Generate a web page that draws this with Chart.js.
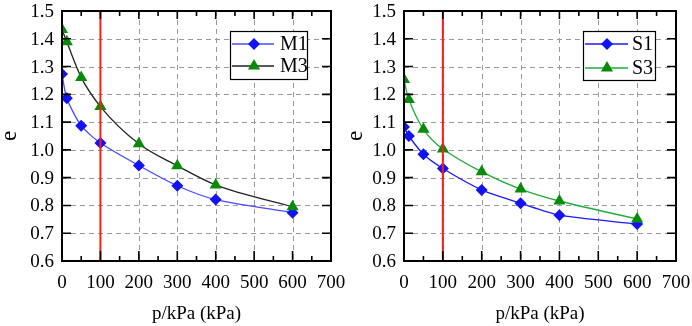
<!DOCTYPE html>
<html>
<head>
<meta charset="utf-8">
<script src="https://cdn.jsdelivr.net/npm/chart.js@4.4.0/dist/chart.umd.min.js"></script>
<style>
  html, body { margin:0; padding:0; background:#fff; }
  .wrap { display:flex; width:692px; height:326px; }
  .wrap canvas { display:block; }
</style>
</head>
<body>
<div class="wrap">
  <canvas id="chartM" width="346" height="326"></canvas>
  <canvas id="chartS" width="346" height="326"></canvas>
</div>
<script>
// --- data ---
const pressure = [0, 12.5, 50, 100, 200, 300, 400, 600];   // kPa
const eM1 = [1.273, 1.186, 1.087, 1.025, 0.944, 0.871, 0.821, 0.774];
const eM3 = [1.433, 1.389, 1.261, 1.156, 1.022, 0.943, 0.874, 0.795];
const eS1 = [1.082, 1.050, 0.984, 0.933, 0.856, 0.808, 0.765, 0.733];
const eS3 = [1.253, 1.181, 1.074, 1.003, 0.921, 0.859, 0.816, 0.751];
const markerP = [100, 100];          // red reference line
const markerE = [0.6, 1.5];
const xTicks = [0, 100, 200, 300, 400, 500, 600, 700];
const yTicks = [0.6, 0.7, 0.8, 0.9, 1.0, 1.1, 1.2, 1.3, 1.4, 1.5];

const FONT = "'Liberation Serif', 'Times New Roman', serif";
const pts = arr => arr.map((v, i) => ({ x: pressure[i], y: v }));
const redLine = () => ({
  label: '', data: markerE.map((v, i) => ({ x: markerP[i], y: v })),
  borderColor: '#ff1a1a', borderWidth: 2, pointRadius: 0, order: 0
});

// dashed grid + boxed frame with inward ticks + tick labels
const framePlugin = {
  id: 'frame',
  beforeDatasetsDraw(chart) {
    const { ctx, chartArea: a, scales: { x, y } } = chart;
    ctx.save();
    ctx.strokeStyle = '#9a9a9a';
    ctx.lineWidth = 1;
    ctx.setLineDash([5, 4]);
    xTicks.slice(1, -1).forEach(t => {
      const px = Math.round(x.getPixelForValue(t)) + 0.5;
      ctx.beginPath(); ctx.moveTo(px, a.top); ctx.lineTo(px, a.bottom); ctx.stroke();
    });
    yTicks.slice(1, -1).forEach(t => {
      const py = Math.round(y.getPixelForValue(t)) + 0.5;
      ctx.beginPath(); ctx.moveTo(a.left, py); ctx.lineTo(a.right, py); ctx.stroke();
    });
    ctx.restore();
  },
  afterDatasetsDraw(chart) {
    const { ctx, chartArea: a, scales: { x, y } } = chart;
    ctx.save();
    ctx.strokeStyle = '#000';
    ctx.lineWidth = 2;
    ctx.setLineDash([]);
    ctx.strokeRect(a.left, a.top, a.right - a.left, a.bottom - a.top);
    ctx.lineWidth = 1.6;
    for (let v = 50; v < 700; v += 50) {
      const px = x.getPixelForValue(v);
      const big = v % 100 === 0;
      ctx.beginPath();
      ctx.moveTo(px, a.bottom); ctx.lineTo(px, a.bottom - (big ? 10 : 5));
      ctx.moveTo(px, a.top); ctx.lineTo(px, a.top + (big ? 8 : 5));
      ctx.stroke();
    }
    yTicks.slice(1, -1).forEach(t => {
      const py = y.getPixelForValue(t);
      ctx.beginPath();
      ctx.moveTo(a.left, py); ctx.lineTo(a.left + 9, py);
      ctx.moveTo(a.right, py); ctx.lineTo(a.right - 9, py);
      ctx.stroke();
    });
    // tick labels
    ctx.fillStyle = '#000';
    ctx.font = '19px ' + FONT;
    ctx.textBaseline = 'middle';
    ctx.textAlign = 'center';
    xTicks.forEach(t => ctx.fillText(String(t), x.getPixelForValue(t), a.bottom + 22));
    ctx.textAlign = 'right';
    yTicks.forEach(t => ctx.fillText(t.toFixed(1), a.left - 8, y.getPixelForValue(t) + 1));
    ctx.restore();
  }
};

function drawMarker(ctx, style, cx, cy, r, color) {
  ctx.fillStyle = color;
  ctx.beginPath();
  if (style === 'rectRot') {
    ctx.moveTo(cx, cy - r); ctx.lineTo(cx + r, cy); ctx.lineTo(cx, cy + r); ctx.lineTo(cx - r, cy);
  } else {
    ctx.moveTo(cx, cy - r); ctx.lineTo(cx + r * 0.87, cy + r * 0.5); ctx.lineTo(cx - r * 0.87, cy + r * 0.5);
  }
  ctx.closePath();
  ctx.fill();
}

// boxed legend inside the plot
const boxLegend = {
  id: 'boxLegend',
  afterDraw(chart, args, o) {
    const { ctx } = chart;
    ctx.save();
    ctx.fillStyle = '#fff';
    ctx.fillRect(o.x, o.y, o.w, o.h);
    ctx.strokeStyle = '#000';
    ctx.lineWidth = 1.2;
    ctx.strokeRect(o.x + 0.5, o.y + 0.5, o.w, o.h);
    chart.data.datasets.filter(d => d.label).forEach((d, i) => {
      const ry = o.y + o.rows[i];
      ctx.strokeStyle = d.borderColor;
      ctx.lineWidth = 1.5;
      ctx.beginPath(); ctx.moveTo(o.x + 2, ry); ctx.lineTo(o.x + o.lineW, ry); ctx.stroke();
      drawMarker(ctx, d.pointStyle, o.x + o.markX, ry, d.pointRadius, d.pointBackgroundColor);
      ctx.fillStyle = '#000';
      ctx.font = '20px ' + FONT;
      ctx.textBaseline = 'middle';
      ctx.fillText(d.label, o.x + o.textX, ry + 1);
    });
    ctx.restore();
  }
};

function makeChart(id, sets, pad, yWidth, legend) {
  return new Chart(document.getElementById(id), {
    type: 'line',
    data: { datasets: sets },
    plugins: [framePlugin, boxLegend],
    options: {
      responsive: false, animation: false,
      layout: { padding: pad },
      plugins: { legend: { display: false }, tooltip: { enabled: false }, boxLegend: legend },
      scales: {
        x: {
          type: 'linear', min: 0, max: 700,
          afterBuildTicks: s => { s.ticks = xTicks.map(v => ({ value: v })); },
          afterFit: s => { s.height = 65; },
          grid: { display: false, drawTicks: false }, border: { display: false },
          ticks: { display: false },
          title: { display: true, text: 'p/kPa (kPa)', color: '#000', padding: { top: 4, bottom: 1 }, font: { family: FONT, size: 19 } }
        },
        y: {
          type: 'linear', min: 0.6, max: 1.5,
          afterBuildTicks: s => { s.ticks = yTicks.map(v => ({ value: v })); },
          afterFit: s => { s.width = yWidth; },
          grid: { display: false, drawTicks: false }, border: { display: false },
          ticks: { display: false },
          title: { display: true, text: 'e', color: '#000', padding: 0, font: { family: FONT, size: 23, lineHeight: 0.9 } }
        }
      }
    }
  });
}

makeChart('chartM', [
  { label: 'M1', data: pts(eM1), borderColor: '#4a4aff', borderWidth: 1.3, tension: 0.25,
    pointStyle: 'rectRot', pointRadius: 6, pointBackgroundColor: '#1212f5', pointBorderWidth: 0, order: 2 },
  { label: 'M3', data: pts(eM3), borderColor: '#222', borderWidth: 1.3, tension: 0.4, cubicInterpolationMode: 'monotone',
    pointStyle: 'triangle', pointRadius: 7, pointBackgroundColor: '#0a8a0a', pointBorderWidth: 0, order: 1 },
  redLine()
], { left: 0, right: 15, top: 11, bottom: 0 }, 62,
  { x: 230, y: 31, w: 77, h: 48, rows: [13, 35], lineW: 44, markX: 24, textX: 50 });

makeChart('chartS', [
  { label: 'S1', data: pts(eS1), borderColor: '#1a1aff', borderWidth: 1.3, tension: 0.25,
    pointStyle: 'rectRot', pointRadius: 6, pointBackgroundColor: '#1212f5', pointBorderWidth: 0, order: 2 },
  { label: 'S3', data: pts(eS3), borderColor: '#1fae3c', borderWidth: 1.3, tension: 0.3,
    pointStyle: 'triangle', pointRadius: 7, pointBackgroundColor: '#0a8a0a', pointBorderWidth: 0, order: 1 },
  redLine()
], { left: 0, right: 16, top: 11, bottom: 0 }, 58,
  { x: 237, y: 31, w: 72, h: 49, rows: [13, 37], lineW: 45, markX: 24, textX: 49 });
</script>
</body>
</html>
